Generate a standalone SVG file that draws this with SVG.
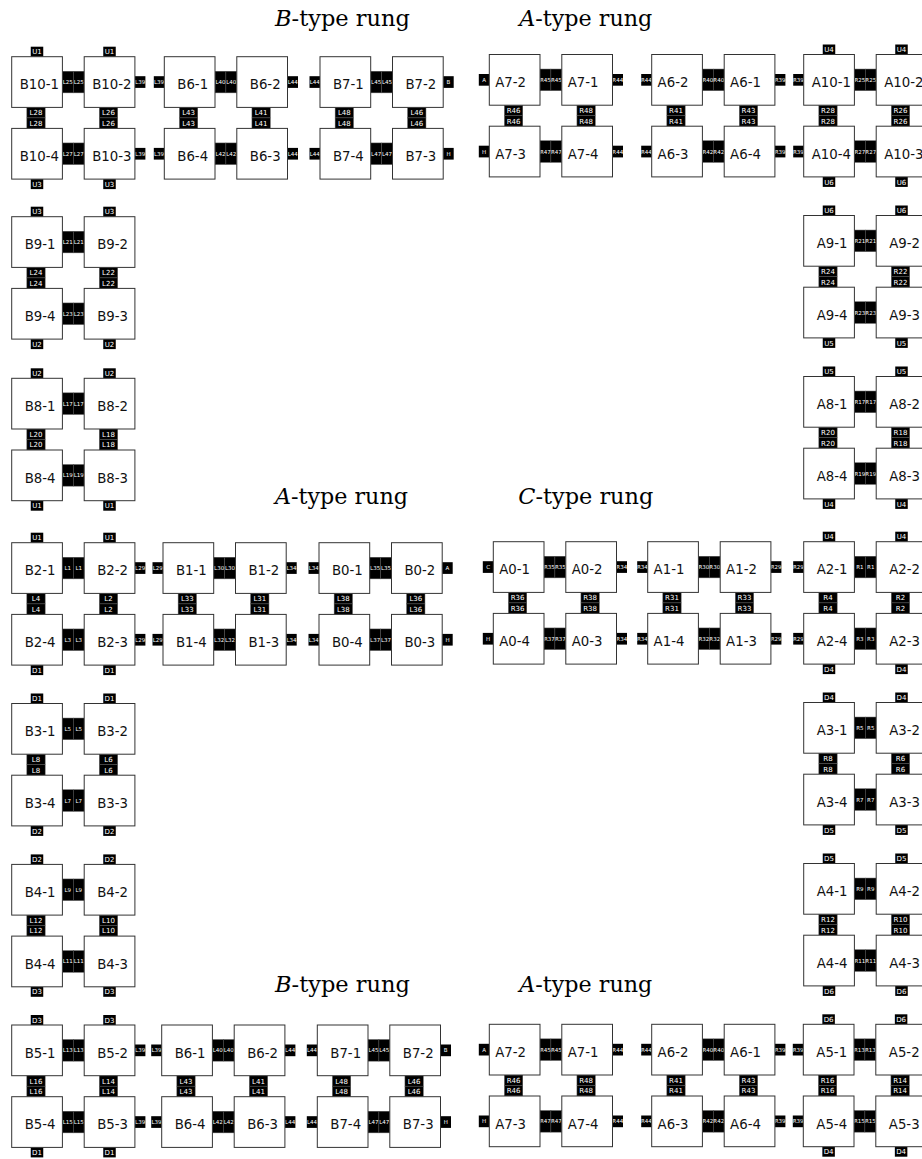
<svg xmlns="http://www.w3.org/2000/svg" xmlns:xlink="http://www.w3.org/1999/xlink" width="922" height="1159" viewBox="0 0 922 1159">
<style>
.box{fill:#fff;stroke:#333;stroke-width:1}
.c{fill:#000;stroke:#555;stroke-width:0.5}
.k{fill:#000}
.nl{font-family:"DejaVu Sans",sans-serif;font-size:13.3px;text-anchor:middle;fill:#111}
.s{font-family:"DejaVu Sans",sans-serif;font-size:5.5px;text-anchor:middle;fill:#fff}
.m{font-family:"DejaVu Sans",sans-serif;font-size:7px;text-anchor:middle;fill:#fff}
.ttl{font-family:"DejaVu Serif",serif;font-size:22px;fill:#000}
</style>
<defs>
<g id="conn">
<rect class="c" x="50.7" y="14.55" width="10.9" height="21.6"/>
<rect class="c" x="61.6" y="14.55" width="10.9" height="21.6"/>
<rect class="c" x="50.7" y="86.25" width="10.9" height="21.6"/>
<rect class="c" x="61.6" y="86.25" width="10.9" height="21.6"/>
<rect class="c" x="15.15" y="50.7" width="18.3" height="10.5"/>
<rect class="c" x="15.15" y="61.2" width="18.3" height="10.5"/>
<rect class="c" x="87.65" y="50.7" width="18.3" height="10.5"/>
<rect class="c" x="87.65" y="61.2" width="18.3" height="10.5"/>
</g>
<g id="tb">
<rect class="k" x="19.05" y="-10" width="12.5" height="10"/>
<rect class="k" x="91.55" y="-10" width="12.5" height="10"/>
<rect class="k" x="19.05" y="122.4" width="12.5" height="10"/>
<rect class="k" x="91.55" y="122.4" width="12.5" height="10"/>
</g>
<g id="lt">
<rect class="k" x="-10.5" y="19.5" width="10.5" height="11.7"/>
<rect class="k" x="-10.5" y="91.2" width="10.5" height="11.7"/>
</g>
<g id="rt">
<rect class="k" x="123.2" y="19.5" width="10.5" height="11.7"/>
<rect class="k" x="123.2" y="91.2" width="10.5" height="11.7"/>
</g>
</defs>

<g id="titles">
<text class="ttl" x="275" y="25.7" textLength="135" lengthAdjust="spacingAndGlyphs"><tspan font-style="italic">B</tspan>-type rung</text>
<text class="ttl" x="519.3" y="25.7" textLength="133" lengthAdjust="spacingAndGlyphs"><tspan font-style="italic">A</tspan>-type rung</text>
<text class="ttl" x="275" y="504" textLength="133" lengthAdjust="spacingAndGlyphs"><tspan font-style="italic">A</tspan>-type rung</text>
<text class="ttl" x="518.3" y="504" textLength="135" lengthAdjust="spacingAndGlyphs"><tspan font-style="italic">C</tspan>-type rung</text>
<text class="ttl" x="275" y="992" textLength="135" lengthAdjust="spacingAndGlyphs"><tspan font-style="italic">B</tspan>-type rung</text>
<text class="ttl" x="519.3" y="992" textLength="133" lengthAdjust="spacingAndGlyphs"><tspan font-style="italic">A</tspan>-type rung</text>
</g>

<g id="connectors">
<!-- B10 -->
<g transform="translate(11.7,56.7)"><use href="#conn"/><use href="#tb"/><use href="#rt"/>
<text class="s" x="56.15" y="27.4">L25</text><text class="s" x="67.05" y="27.4">L25</text>
<text class="s" x="56.15" y="99.1">L27</text><text class="s" x="67.05" y="99.1">L27</text>
<text class="m" x="24.3" y="58.5">L28</text><text class="m" x="24.3" y="69">L28</text>
<text class="m" x="96.8" y="58.5">L26</text><text class="m" x="96.8" y="69">L26</text>
<text class="m" x="25.3" y="-2.5">U1</text><text class="m" x="97.8" y="-2.5">U1</text>
<text class="m" x="25.3" y="130">U3</text><text class="m" x="97.8" y="130">U3</text>
<text class="s" x="128.45" y="27.4">L39</text><text class="s" x="128.45" y="99.1">L39</text>
</g>
<!-- B6 top -->
<g transform="translate(164.3,56.7)"><use href="#conn"/><use href="#lt"/><use href="#rt"/>
<text class="s" x="56.15" y="27.4">L40</text><text class="s" x="67.05" y="27.4">L40</text>
<text class="s" x="56.15" y="99.1">L42</text><text class="s" x="67.05" y="99.1">L42</text>
<text class="m" x="24.3" y="58.5">L43</text><text class="m" x="24.3" y="69">L43</text>
<text class="m" x="96.8" y="58.5">L41</text><text class="m" x="96.8" y="69">L41</text>
<text class="s" x="-5.25" y="27.4">L39</text><text class="s" x="-5.25" y="99.1">L39</text>
<text class="s" x="128.45" y="27.4">L44</text><text class="s" x="128.45" y="99.1">L44</text>
</g>
<!-- B7 top -->
<g transform="translate(320,56.7)"><use href="#conn"/><use href="#lt"/><use href="#rt"/>
<text class="s" x="56.15" y="27.4">L45</text><text class="s" x="67.05" y="27.4">L45</text>
<text class="s" x="56.15" y="99.1">L47</text><text class="s" x="67.05" y="99.1">L47</text>
<text class="m" x="24.3" y="58.5">L48</text><text class="m" x="24.3" y="69">L48</text>
<text class="m" x="96.8" y="58.5">L46</text><text class="m" x="96.8" y="69">L46</text>
<text class="s" x="-5.25" y="27.4">L44</text><text class="s" x="-5.25" y="99.1">L44</text>
<text class="s" x="128.45" y="27.4">B</text><text class="s" x="128.45" y="99.1">H</text>
</g>
<!-- A7 top -->
<g transform="translate(489.3,54.5)"><use href="#conn"/><use href="#lt"/><use href="#rt"/>
<text class="s" x="56.15" y="27.4">R45</text><text class="s" x="67.05" y="27.4">R45</text>
<text class="s" x="56.15" y="99.1">R47</text><text class="s" x="67.05" y="99.1">R47</text>
<text class="m" x="24.3" y="58.5">R46</text><text class="m" x="24.3" y="69">R46</text>
<text class="m" x="96.8" y="58.5">R48</text><text class="m" x="96.8" y="69">R48</text>
<text class="s" x="-5.25" y="27.4">A</text><text class="s" x="-5.25" y="99.1">H</text>
<text class="s" x="128.45" y="27.4">R44</text><text class="s" x="128.45" y="99.1">R44</text>
</g>
<!-- A6 top -->
<g transform="translate(651.7,54.5)"><use href="#conn"/><use href="#lt"/><use href="#rt"/>
<text class="s" x="56.15" y="27.4">R40</text><text class="s" x="67.05" y="27.4">R40</text>
<text class="s" x="56.15" y="99.1">R42</text><text class="s" x="67.05" y="99.1">R42</text>
<text class="m" x="24.3" y="58.5">R41</text><text class="m" x="24.3" y="69">R41</text>
<text class="m" x="96.8" y="58.5">R43</text><text class="m" x="96.8" y="69">R43</text>
<text class="s" x="-5.25" y="27.4">R44</text><text class="s" x="-5.25" y="99.1">R44</text>
<text class="s" x="128.45" y="27.4">R39</text><text class="s" x="128.45" y="99.1">R39</text>
</g>
<!-- A10 -->
<g transform="translate(803.7,54.5)"><use href="#conn"/><use href="#tb"/><use href="#lt"/>
<text class="s" x="56.15" y="27.4">R25</text><text class="s" x="67.05" y="27.4">R25</text>
<text class="s" x="56.15" y="99.1">R27</text><text class="s" x="67.05" y="99.1">R27</text>
<text class="m" x="24.3" y="58.5">R28</text><text class="m" x="24.3" y="69">R28</text>
<text class="m" x="96.8" y="58.5">R26</text><text class="m" x="96.8" y="69">R26</text>
<text class="m" x="25.3" y="-2.5">U4</text><text class="m" x="97.8" y="-2.5">U4</text>
<text class="m" x="25.3" y="130">U6</text><text class="m" x="97.8" y="130">U6</text>
<text class="s" x="-5.25" y="27.4">R39</text><text class="s" x="-5.25" y="99.1">R39</text>
</g>
<!-- B9 -->
<g transform="translate(11.7,216.7)"><use href="#conn"/><use href="#tb"/>
<text class="s" x="56.15" y="27.4">L21</text><text class="s" x="67.05" y="27.4">L21</text>
<text class="s" x="56.15" y="99.1">L23</text><text class="s" x="67.05" y="99.1">L23</text>
<text class="m" x="24.3" y="58.5">L24</text><text class="m" x="24.3" y="69">L24</text>
<text class="m" x="96.8" y="58.5">L22</text><text class="m" x="96.8" y="69">L22</text>
<text class="m" x="25.3" y="-2.5">U3</text><text class="m" x="97.8" y="-2.5">U3</text>
<text class="m" x="25.3" y="130">U2</text><text class="m" x="97.8" y="130">U2</text>
</g>
<!-- B8 -->
<g transform="translate(11.7,378.3)"><use href="#conn"/><use href="#tb"/>
<text class="s" x="56.15" y="27.4">L17</text><text class="s" x="67.05" y="27.4">L17</text>
<text class="s" x="56.15" y="99.1">L19</text><text class="s" x="67.05" y="99.1">L19</text>
<text class="m" x="24.3" y="58.5">L20</text><text class="m" x="24.3" y="69">L20</text>
<text class="m" x="96.8" y="58.5">L18</text><text class="m" x="96.8" y="69">L18</text>
<text class="m" x="25.3" y="-2.5">U2</text><text class="m" x="97.8" y="-2.5">U2</text>
<text class="m" x="25.3" y="130">U1</text><text class="m" x="97.8" y="130">U1</text>
</g>
<!-- A9 -->
<g transform="translate(803.7,215.5)"><use href="#conn"/><use href="#tb"/>
<text class="s" x="56.15" y="27.4">R21</text><text class="s" x="67.05" y="27.4">R21</text>
<text class="s" x="56.15" y="99.1">R23</text><text class="s" x="67.05" y="99.1">R23</text>
<text class="m" x="24.3" y="58.5">R24</text><text class="m" x="24.3" y="69">R24</text>
<text class="m" x="96.8" y="58.5">R22</text><text class="m" x="96.8" y="69">R22</text>
<text class="m" x="25.3" y="-2.5">U6</text><text class="m" x="97.8" y="-2.5">U6</text>
<text class="m" x="25.3" y="130">U5</text><text class="m" x="97.8" y="130">U5</text>
</g>
<!-- A8 -->
<g transform="translate(803.7,376.5)"><use href="#conn"/><use href="#tb"/>
<text class="s" x="56.15" y="27.4">R17</text><text class="s" x="67.05" y="27.4">R17</text>
<text class="s" x="56.15" y="99.1">R19</text><text class="s" x="67.05" y="99.1">R19</text>
<text class="m" x="24.3" y="58.5">R20</text><text class="m" x="24.3" y="69">R20</text>
<text class="m" x="96.8" y="58.5">R18</text><text class="m" x="96.8" y="69">R18</text>
<text class="m" x="25.3" y="-2.5">U5</text><text class="m" x="97.8" y="-2.5">U5</text>
<text class="m" x="25.3" y="130">U4</text><text class="m" x="97.8" y="130">U4</text>
</g>
<!-- B2 -->
<g transform="translate(11.7,542.7)"><use href="#conn"/><use href="#tb"/><use href="#rt"/>
<text class="s" x="56.15" y="27.4">L1</text><text class="s" x="67.05" y="27.4">L1</text>
<text class="s" x="56.15" y="99.1">L3</text><text class="s" x="67.05" y="99.1">L3</text>
<text class="m" x="24.3" y="58.5">L4</text><text class="m" x="24.3" y="69">L4</text>
<text class="m" x="96.8" y="58.5">L2</text><text class="m" x="96.8" y="69">L2</text>
<text class="m" x="25.3" y="-2.5">U1</text><text class="m" x="97.8" y="-2.5">U1</text>
<text class="m" x="25.3" y="130">D1</text><text class="m" x="97.8" y="130">D1</text>
<text class="s" x="128.45" y="27.4">L29</text><text class="s" x="128.45" y="99.1">L29</text>
</g>
<!-- B1 -->
<g transform="translate(163,542.7)"><use href="#conn"/><use href="#lt"/><use href="#rt"/>
<text class="s" x="56.15" y="27.4">L30</text><text class="s" x="67.05" y="27.4">L30</text>
<text class="s" x="56.15" y="99.1">L32</text><text class="s" x="67.05" y="99.1">L32</text>
<text class="m" x="24.3" y="58.5">L33</text><text class="m" x="24.3" y="69">L33</text>
<text class="m" x="96.8" y="58.5">L31</text><text class="m" x="96.8" y="69">L31</text>
<text class="s" x="-5.25" y="27.4">L29</text><text class="s" x="-5.25" y="99.1">L29</text>
<text class="s" x="128.45" y="27.4">L34</text><text class="s" x="128.45" y="99.1">L34</text>
</g>
<!-- B0 -->
<g transform="translate(319,542.7)"><use href="#conn"/><use href="#lt"/><use href="#rt"/>
<text class="s" x="56.15" y="27.4">L35</text><text class="s" x="67.05" y="27.4">L35</text>
<text class="s" x="56.15" y="99.1">L37</text><text class="s" x="67.05" y="99.1">L37</text>
<text class="m" x="24.3" y="58.5">L38</text><text class="m" x="24.3" y="69">L38</text>
<text class="m" x="96.8" y="58.5">L36</text><text class="m" x="96.8" y="69">L36</text>
<text class="s" x="-5.25" y="27.4">L34</text><text class="s" x="-5.25" y="99.1">L34</text>
<text class="s" x="128.45" y="27.4">A</text><text class="s" x="128.45" y="99.1">H</text>
</g>
<!-- A0 -->
<g transform="translate(493.3,541.7)"><use href="#conn"/><use href="#lt"/><use href="#rt"/>
<text class="s" x="56.15" y="27.4">R35</text><text class="s" x="67.05" y="27.4">R35</text>
<text class="s" x="56.15" y="99.1">R37</text><text class="s" x="67.05" y="99.1">R37</text>
<text class="m" x="24.3" y="58.5">R36</text><text class="m" x="24.3" y="69">R36</text>
<text class="m" x="96.8" y="58.5">R38</text><text class="m" x="96.8" y="69">R38</text>
<text class="s" x="-5.25" y="27.4">C</text><text class="s" x="-5.25" y="99.1">H</text>
<text class="s" x="128.45" y="27.4">R34</text><text class="s" x="128.45" y="99.1">R34</text>
</g>
<!-- A1 -->
<g transform="translate(647.7,541.7)"><use href="#conn"/><use href="#lt"/><use href="#rt"/>
<text class="s" x="56.15" y="27.4">R30</text><text class="s" x="67.05" y="27.4">R30</text>
<text class="s" x="56.15" y="99.1">R32</text><text class="s" x="67.05" y="99.1">R32</text>
<text class="m" x="24.3" y="58.5">R31</text><text class="m" x="24.3" y="69">R31</text>
<text class="m" x="96.8" y="58.5">R33</text><text class="m" x="96.8" y="69">R33</text>
<text class="s" x="-5.25" y="27.4">R34</text><text class="s" x="-5.25" y="99.1">R34</text>
<text class="s" x="128.45" y="27.4">R29</text><text class="s" x="128.45" y="99.1">R29</text>
</g>
<!-- A2 -->
<g transform="translate(803.7,541.7)"><use href="#conn"/><use href="#tb"/><use href="#lt"/>
<text class="s" x="56.15" y="27.4">R1</text><text class="s" x="67.05" y="27.4">R1</text>
<text class="s" x="56.15" y="99.1">R3</text><text class="s" x="67.05" y="99.1">R3</text>
<text class="m" x="24.3" y="58.5">R4</text><text class="m" x="24.3" y="69">R4</text>
<text class="m" x="96.8" y="58.5">R2</text><text class="m" x="96.8" y="69">R2</text>
<text class="m" x="25.3" y="-2.5">U4</text><text class="m" x="97.8" y="-2.5">U4</text>
<text class="m" x="25.3" y="130">D4</text><text class="m" x="97.8" y="130">D4</text>
<text class="s" x="-5.25" y="27.4">R29</text><text class="s" x="-5.25" y="99.1">R29</text>
</g>
<!-- B3 -->
<g transform="translate(11.7,703.5)"><use href="#conn"/><use href="#tb"/>
<text class="s" x="56.15" y="27.4">L5</text><text class="s" x="67.05" y="27.4">L5</text>
<text class="s" x="56.15" y="99.1">L7</text><text class="s" x="67.05" y="99.1">L7</text>
<text class="m" x="24.3" y="58.5">L8</text><text class="m" x="24.3" y="69">L8</text>
<text class="m" x="96.8" y="58.5">L6</text><text class="m" x="96.8" y="69">L6</text>
<text class="m" x="25.3" y="-2.5">D1</text><text class="m" x="97.8" y="-2.5">D1</text>
<text class="m" x="25.3" y="130">D2</text><text class="m" x="97.8" y="130">D2</text>
</g>
<!-- B4 -->
<g transform="translate(11.7,864.4)"><use href="#conn"/><use href="#tb"/>
<text class="s" x="56.15" y="27.4">L9</text><text class="s" x="67.05" y="27.4">L9</text>
<text class="s" x="56.15" y="99.1">L11</text><text class="s" x="67.05" y="99.1">L11</text>
<text class="m" x="24.3" y="58.5">L12</text><text class="m" x="24.3" y="69">L12</text>
<text class="m" x="96.8" y="58.5">L10</text><text class="m" x="96.8" y="69">L10</text>
<text class="m" x="25.3" y="-2.5">D2</text><text class="m" x="97.8" y="-2.5">D2</text>
<text class="m" x="25.3" y="130">D3</text><text class="m" x="97.8" y="130">D3</text>
</g>
<!-- A3 -->
<g transform="translate(803.7,702.5)"><use href="#conn"/><use href="#tb"/>
<text class="s" x="56.15" y="27.4">R5</text><text class="s" x="67.05" y="27.4">R5</text>
<text class="s" x="56.15" y="99.1">R7</text><text class="s" x="67.05" y="99.1">R7</text>
<text class="m" x="24.3" y="58.5">R8</text><text class="m" x="24.3" y="69">R8</text>
<text class="m" x="96.8" y="58.5">R6</text><text class="m" x="96.8" y="69">R6</text>
<text class="m" x="25.3" y="-2.5">D4</text><text class="m" x="97.8" y="-2.5">D4</text>
<text class="m" x="25.3" y="130">D5</text><text class="m" x="97.8" y="130">D5</text>
</g>
<!-- A4 -->
<g transform="translate(803.7,863.5)"><use href="#conn"/><use href="#tb"/>
<text class="s" x="56.15" y="27.4">R9</text><text class="s" x="67.05" y="27.4">R9</text>
<text class="s" x="56.15" y="99.1">R11</text><text class="s" x="67.05" y="99.1">R11</text>
<text class="m" x="24.3" y="58.5">R12</text><text class="m" x="24.3" y="69">R12</text>
<text class="m" x="96.8" y="58.5">R10</text><text class="m" x="96.8" y="69">R10</text>
<text class="m" x="25.3" y="-2.5">D5</text><text class="m" x="97.8" y="-2.5">D5</text>
<text class="m" x="25.3" y="130">D6</text><text class="m" x="97.8" y="130">D6</text>
</g>
<!-- B5 -->
<g transform="translate(11.7,1025)"><use href="#conn"/><use href="#tb"/><use href="#rt"/>
<text class="s" x="56.15" y="27.4">L13</text><text class="s" x="67.05" y="27.4">L13</text>
<text class="s" x="56.15" y="99.1">L15</text><text class="s" x="67.05" y="99.1">L15</text>
<text class="m" x="24.3" y="58.5">L16</text><text class="m" x="24.3" y="69">L16</text>
<text class="m" x="96.8" y="58.5">L14</text><text class="m" x="96.8" y="69">L14</text>
<text class="m" x="25.3" y="-2.5">D3</text><text class="m" x="97.8" y="-2.5">D3</text>
<text class="m" x="25.3" y="130">D1</text><text class="m" x="97.8" y="130">D1</text>
<text class="s" x="128.45" y="27.4">L39</text><text class="s" x="128.45" y="99.1">L39</text>
</g>
<!-- B6 bottom -->
<g transform="translate(161.7,1025)"><use href="#conn"/><use href="#lt"/><use href="#rt"/>
<text class="s" x="56.15" y="27.4">L40</text><text class="s" x="67.05" y="27.4">L40</text>
<text class="s" x="56.15" y="99.1">L42</text><text class="s" x="67.05" y="99.1">L42</text>
<text class="m" x="24.3" y="58.5">L43</text><text class="m" x="24.3" y="69">L43</text>
<text class="m" x="96.8" y="58.5">L41</text><text class="m" x="96.8" y="69">L41</text>
<text class="s" x="-5.25" y="27.4">L39</text><text class="s" x="-5.25" y="99.1">L39</text>
<text class="s" x="128.45" y="27.4">L44</text><text class="s" x="128.45" y="99.1">L44</text>
</g>
<!-- B7 bottom -->
<g transform="translate(317.3,1025)"><use href="#conn"/><use href="#lt"/><use href="#rt"/>
<text class="s" x="56.15" y="27.4">L45</text><text class="s" x="67.05" y="27.4">L45</text>
<text class="s" x="56.15" y="99.1">L47</text><text class="s" x="67.05" y="99.1">L47</text>
<text class="m" x="24.3" y="58.5">L48</text><text class="m" x="24.3" y="69">L48</text>
<text class="m" x="96.8" y="58.5">L46</text><text class="m" x="96.8" y="69">L46</text>
<text class="s" x="-5.25" y="27.4">L44</text><text class="s" x="-5.25" y="99.1">L44</text>
<text class="s" x="128.45" y="27.4">B</text><text class="s" x="128.45" y="99.1">H</text>
</g>
<!-- A7 bottom -->
<g transform="translate(489.3,1024.3)"><use href="#conn"/><use href="#lt"/><use href="#rt"/>
<text class="s" x="56.15" y="27.4">R45</text><text class="s" x="67.05" y="27.4">R45</text>
<text class="s" x="56.15" y="99.1">R47</text><text class="s" x="67.05" y="99.1">R47</text>
<text class="m" x="24.3" y="58.5">R46</text><text class="m" x="24.3" y="69">R46</text>
<text class="m" x="96.8" y="58.5">R48</text><text class="m" x="96.8" y="69">R48</text>
<text class="s" x="-5.25" y="27.4">A</text><text class="s" x="-5.25" y="99.1">H</text>
<text class="s" x="128.45" y="27.4">R44</text><text class="s" x="128.45" y="99.1">R44</text>
</g>
<!-- A6 bottom -->
<g transform="translate(651.7,1024.3)"><use href="#conn"/><use href="#lt"/><use href="#rt"/>
<text class="s" x="56.15" y="27.4">R40</text><text class="s" x="67.05" y="27.4">R40</text>
<text class="s" x="56.15" y="99.1">R42</text><text class="s" x="67.05" y="99.1">R42</text>
<text class="m" x="24.3" y="58.5">R41</text><text class="m" x="24.3" y="69">R41</text>
<text class="m" x="96.8" y="58.5">R43</text><text class="m" x="96.8" y="69">R43</text>
<text class="s" x="-5.25" y="27.4">R44</text><text class="s" x="-5.25" y="99.1">R44</text>
<text class="s" x="128.45" y="27.4">R39</text><text class="s" x="128.45" y="99.1">R39</text>
</g>
<!-- A5 -->
<g transform="translate(803.3,1024.3)"><use href="#conn"/><use href="#tb"/><use href="#lt"/>
<text class="s" x="56.15" y="27.4">R13</text><text class="s" x="67.05" y="27.4">R13</text>
<text class="s" x="56.15" y="99.1">R15</text><text class="s" x="67.05" y="99.1">R15</text>
<text class="m" x="24.3" y="58.5">R16</text><text class="m" x="24.3" y="69">R16</text>
<text class="m" x="96.8" y="58.5">R14</text><text class="m" x="96.8" y="69">R14</text>
<text class="m" x="25.3" y="-2.5">D6</text><text class="m" x="97.8" y="-2.5">D6</text>
<text class="m" x="25.3" y="130">D4</text><text class="m" x="97.8" y="130">D4</text>
<text class="s" x="-5.25" y="27.4">R39</text><text class="s" x="-5.25" y="99.1">R39</text>
</g>
</g>

<g id="nodes">
<g transform="translate(11.7,56.7)">
<g id="B10-1"><rect class="box" width="50.7" height="50.7"/><text class="nl" x="27.6" y="32.7">B10-1</text></g>
<g id="B10-2" transform="translate(72.5,0)"><rect class="box" width="50.7" height="50.7"/><text class="nl" x="27.6" y="32.7">B10-2</text></g>
<g id="B10-4" transform="translate(0,71.7)"><rect class="box" width="50.7" height="50.7"/><text class="nl" x="27.6" y="32.7">B10-4</text></g>
<g id="B10-3" transform="translate(72.5,71.7)"><rect class="box" width="50.7" height="50.7"/><text class="nl" x="27.6" y="32.7">B10-3</text></g>
</g>
<g transform="translate(164.3,56.7)">
<g id="B6-1-top"><rect class="box" width="50.7" height="50.7"/><text class="nl" x="28.4" y="32.7">B6-1</text></g>
<g id="B6-2-top" transform="translate(72.5,0)"><rect class="box" width="50.7" height="50.7"/><text class="nl" x="28.4" y="32.7">B6-2</text></g>
<g id="B6-4-top" transform="translate(0,71.7)"><rect class="box" width="50.7" height="50.7"/><text class="nl" x="28.4" y="32.7">B6-4</text></g>
<g id="B6-3-top" transform="translate(72.5,71.7)"><rect class="box" width="50.7" height="50.7"/><text class="nl" x="28.4" y="32.7">B6-3</text></g>
</g>
<g transform="translate(320,56.7)">
<g id="B7-1-top"><rect class="box" width="50.7" height="50.7"/><text class="nl" x="28.4" y="32.7">B7-1</text></g>
<g id="B7-2-top" transform="translate(72.5,0)"><rect class="box" width="50.7" height="50.7"/><text class="nl" x="28.4" y="32.7">B7-2</text></g>
<g id="B7-4-top" transform="translate(0,71.7)"><rect class="box" width="50.7" height="50.7"/><text class="nl" x="28.4" y="32.7">B7-4</text></g>
<g id="B7-3-top" transform="translate(72.5,71.7)"><rect class="box" width="50.7" height="50.7"/><text class="nl" x="28.4" y="32.7">B7-3</text></g>
</g>
<g transform="translate(489.3,54.5)">
<g id="A7-2-top"><rect class="box" width="50.7" height="50.7"/><text class="nl" x="21.3" y="32.7">A7-2</text></g>
<g id="A7-1-top" transform="translate(72.5,0)"><rect class="box" width="50.7" height="50.7"/><text class="nl" x="21.3" y="32.7">A7-1</text></g>
<g id="A7-3-top" transform="translate(0,71.7)"><rect class="box" width="50.7" height="50.7"/><text class="nl" x="21.3" y="32.7">A7-3</text></g>
<g id="A7-4-top" transform="translate(72.5,71.7)"><rect class="box" width="50.7" height="50.7"/><text class="nl" x="21.3" y="32.7">A7-4</text></g>
</g>
<g transform="translate(651.7,54.5)">
<g id="A6-2-top"><rect class="box" width="50.7" height="50.7"/><text class="nl" x="21.3" y="32.7">A6-2</text></g>
<g id="A6-1-top" transform="translate(72.5,0)"><rect class="box" width="50.7" height="50.7"/><text class="nl" x="21.3" y="32.7">A6-1</text></g>
<g id="A6-3-top" transform="translate(0,71.7)"><rect class="box" width="50.7" height="50.7"/><text class="nl" x="21.3" y="32.7">A6-3</text></g>
<g id="A6-4-top" transform="translate(72.5,71.7)"><rect class="box" width="50.7" height="50.7"/><text class="nl" x="21.3" y="32.7">A6-4</text></g>
</g>
<g transform="translate(803.7,54.5)">
<g id="A10-1"><rect class="box" width="50.7" height="50.7"/><text class="nl" x="27.6" y="32.7">A10-1</text></g>
<g id="A10-2" transform="translate(72.5,0)"><rect class="box" width="50.7" height="50.7"/><text class="nl" x="27.6" y="32.7">A10-2</text></g>
<g id="A10-4" transform="translate(0,71.7)"><rect class="box" width="50.7" height="50.7"/><text class="nl" x="27.6" y="32.7">A10-4</text></g>
<g id="A10-3" transform="translate(72.5,71.7)"><rect class="box" width="50.7" height="50.7"/><text class="nl" x="27.6" y="32.7">A10-3</text></g>
</g>
<g transform="translate(11.7,216.7)">
<g id="B9-1"><rect class="box" width="50.7" height="50.7"/><text class="nl" x="28.4" y="32.7">B9-1</text></g>
<g id="B9-2" transform="translate(72.5,0)"><rect class="box" width="50.7" height="50.7"/><text class="nl" x="28.4" y="32.7">B9-2</text></g>
<g id="B9-4" transform="translate(0,71.7)"><rect class="box" width="50.7" height="50.7"/><text class="nl" x="28.4" y="32.7">B9-4</text></g>
<g id="B9-3" transform="translate(72.5,71.7)"><rect class="box" width="50.7" height="50.7"/><text class="nl" x="28.4" y="32.7">B9-3</text></g>
</g>
<g transform="translate(11.7,378.3)">
<g id="B8-1"><rect class="box" width="50.7" height="50.7"/><text class="nl" x="28.4" y="32.7">B8-1</text></g>
<g id="B8-2" transform="translate(72.5,0)"><rect class="box" width="50.7" height="50.7"/><text class="nl" x="28.4" y="32.7">B8-2</text></g>
<g id="B8-4" transform="translate(0,71.7)"><rect class="box" width="50.7" height="50.7"/><text class="nl" x="28.4" y="32.7">B8-4</text></g>
<g id="B8-3" transform="translate(72.5,71.7)"><rect class="box" width="50.7" height="50.7"/><text class="nl" x="28.4" y="32.7">B8-3</text></g>
</g>
<g transform="translate(803.7,215.5)">
<g id="A9-1"><rect class="box" width="50.7" height="50.7"/><text class="nl" x="28.4" y="32.7">A9-1</text></g>
<g id="A9-2" transform="translate(72.5,0)"><rect class="box" width="50.7" height="50.7"/><text class="nl" x="28.4" y="32.7">A9-2</text></g>
<g id="A9-4" transform="translate(0,71.7)"><rect class="box" width="50.7" height="50.7"/><text class="nl" x="28.4" y="32.7">A9-4</text></g>
<g id="A9-3" transform="translate(72.5,71.7)"><rect class="box" width="50.7" height="50.7"/><text class="nl" x="28.4" y="32.7">A9-3</text></g>
</g>
<g transform="translate(803.7,376.5)">
<g id="A8-1"><rect class="box" width="50.7" height="50.7"/><text class="nl" x="28.4" y="32.7">A8-1</text></g>
<g id="A8-2" transform="translate(72.5,0)"><rect class="box" width="50.7" height="50.7"/><text class="nl" x="28.4" y="32.7">A8-2</text></g>
<g id="A8-4" transform="translate(0,71.7)"><rect class="box" width="50.7" height="50.7"/><text class="nl" x="28.4" y="32.7">A8-4</text></g>
<g id="A8-3" transform="translate(72.5,71.7)"><rect class="box" width="50.7" height="50.7"/><text class="nl" x="28.4" y="32.7">A8-3</text></g>
</g>
<g transform="translate(11.7,542.7)">
<g id="B2-1"><rect class="box" width="50.7" height="50.7"/><text class="nl" x="28.4" y="32.7">B2-1</text></g>
<g id="B2-2" transform="translate(72.5,0)"><rect class="box" width="50.7" height="50.7"/><text class="nl" x="28.4" y="32.7">B2-2</text></g>
<g id="B2-4" transform="translate(0,71.7)"><rect class="box" width="50.7" height="50.7"/><text class="nl" x="28.4" y="32.7">B2-4</text></g>
<g id="B2-3" transform="translate(72.5,71.7)"><rect class="box" width="50.7" height="50.7"/><text class="nl" x="28.4" y="32.7">B2-3</text></g>
</g>
<g transform="translate(163,542.7)">
<g id="B1-1"><rect class="box" width="50.7" height="50.7"/><text class="nl" x="28.4" y="32.7">B1-1</text></g>
<g id="B1-2" transform="translate(72.5,0)"><rect class="box" width="50.7" height="50.7"/><text class="nl" x="28.4" y="32.7">B1-2</text></g>
<g id="B1-4" transform="translate(0,71.7)"><rect class="box" width="50.7" height="50.7"/><text class="nl" x="28.4" y="32.7">B1-4</text></g>
<g id="B1-3" transform="translate(72.5,71.7)"><rect class="box" width="50.7" height="50.7"/><text class="nl" x="28.4" y="32.7">B1-3</text></g>
</g>
<g transform="translate(319,542.7)">
<g id="B0-1"><rect class="box" width="50.7" height="50.7"/><text class="nl" x="28.4" y="32.7">B0-1</text></g>
<g id="B0-2" transform="translate(72.5,0)"><rect class="box" width="50.7" height="50.7"/><text class="nl" x="28.4" y="32.7">B0-2</text></g>
<g id="B0-4" transform="translate(0,71.7)"><rect class="box" width="50.7" height="50.7"/><text class="nl" x="28.4" y="32.7">B0-4</text></g>
<g id="B0-3" transform="translate(72.5,71.7)"><rect class="box" width="50.7" height="50.7"/><text class="nl" x="28.4" y="32.7">B0-3</text></g>
</g>
<g transform="translate(493.3,541.7)">
<g id="A0-1"><rect class="box" width="50.7" height="50.7"/><text class="nl" x="21.3" y="32.7">A0-1</text></g>
<g id="A0-2" transform="translate(72.5,0)"><rect class="box" width="50.7" height="50.7"/><text class="nl" x="21.3" y="32.7">A0-2</text></g>
<g id="A0-4" transform="translate(0,71.7)"><rect class="box" width="50.7" height="50.7"/><text class="nl" x="21.3" y="32.7">A0-4</text></g>
<g id="A0-3" transform="translate(72.5,71.7)"><rect class="box" width="50.7" height="50.7"/><text class="nl" x="21.3" y="32.7">A0-3</text></g>
</g>
<g transform="translate(647.7,541.7)">
<g id="A1-1"><rect class="box" width="50.7" height="50.7"/><text class="nl" x="21.3" y="32.7">A1-1</text></g>
<g id="A1-2" transform="translate(72.5,0)"><rect class="box" width="50.7" height="50.7"/><text class="nl" x="21.3" y="32.7">A1-2</text></g>
<g id="A1-4" transform="translate(0,71.7)"><rect class="box" width="50.7" height="50.7"/><text class="nl" x="21.3" y="32.7">A1-4</text></g>
<g id="A1-3" transform="translate(72.5,71.7)"><rect class="box" width="50.7" height="50.7"/><text class="nl" x="21.3" y="32.7">A1-3</text></g>
</g>
<g transform="translate(803.7,541.7)">
<g id="A2-1"><rect class="box" width="50.7" height="50.7"/><text class="nl" x="28.4" y="32.7">A2-1</text></g>
<g id="A2-2" transform="translate(72.5,0)"><rect class="box" width="50.7" height="50.7"/><text class="nl" x="28.4" y="32.7">A2-2</text></g>
<g id="A2-4" transform="translate(0,71.7)"><rect class="box" width="50.7" height="50.7"/><text class="nl" x="28.4" y="32.7">A2-4</text></g>
<g id="A2-3" transform="translate(72.5,71.7)"><rect class="box" width="50.7" height="50.7"/><text class="nl" x="28.4" y="32.7">A2-3</text></g>
</g>
<g transform="translate(11.7,703.5)">
<g id="B3-1"><rect class="box" width="50.7" height="50.7"/><text class="nl" x="28.4" y="32.7">B3-1</text></g>
<g id="B3-2" transform="translate(72.5,0)"><rect class="box" width="50.7" height="50.7"/><text class="nl" x="28.4" y="32.7">B3-2</text></g>
<g id="B3-4" transform="translate(0,71.7)"><rect class="box" width="50.7" height="50.7"/><text class="nl" x="28.4" y="32.7">B3-4</text></g>
<g id="B3-3" transform="translate(72.5,71.7)"><rect class="box" width="50.7" height="50.7"/><text class="nl" x="28.4" y="32.7">B3-3</text></g>
</g>
<g transform="translate(11.7,864.4)">
<g id="B4-1"><rect class="box" width="50.7" height="50.7"/><text class="nl" x="28.4" y="32.7">B4-1</text></g>
<g id="B4-2" transform="translate(72.5,0)"><rect class="box" width="50.7" height="50.7"/><text class="nl" x="28.4" y="32.7">B4-2</text></g>
<g id="B4-4" transform="translate(0,71.7)"><rect class="box" width="50.7" height="50.7"/><text class="nl" x="28.4" y="32.7">B4-4</text></g>
<g id="B4-3" transform="translate(72.5,71.7)"><rect class="box" width="50.7" height="50.7"/><text class="nl" x="28.4" y="32.7">B4-3</text></g>
</g>
<g transform="translate(803.7,702.5)">
<g id="A3-1"><rect class="box" width="50.7" height="50.7"/><text class="nl" x="28.4" y="32.7">A3-1</text></g>
<g id="A3-2" transform="translate(72.5,0)"><rect class="box" width="50.7" height="50.7"/><text class="nl" x="28.4" y="32.7">A3-2</text></g>
<g id="A3-4" transform="translate(0,71.7)"><rect class="box" width="50.7" height="50.7"/><text class="nl" x="28.4" y="32.7">A3-4</text></g>
<g id="A3-3" transform="translate(72.5,71.7)"><rect class="box" width="50.7" height="50.7"/><text class="nl" x="28.4" y="32.7">A3-3</text></g>
</g>
<g transform="translate(803.7,863.5)">
<g id="A4-1"><rect class="box" width="50.7" height="50.7"/><text class="nl" x="28.4" y="32.7">A4-1</text></g>
<g id="A4-2" transform="translate(72.5,0)"><rect class="box" width="50.7" height="50.7"/><text class="nl" x="28.4" y="32.7">A4-2</text></g>
<g id="A4-4" transform="translate(0,71.7)"><rect class="box" width="50.7" height="50.7"/><text class="nl" x="28.4" y="32.7">A4-4</text></g>
<g id="A4-3" transform="translate(72.5,71.7)"><rect class="box" width="50.7" height="50.7"/><text class="nl" x="28.4" y="32.7">A4-3</text></g>
</g>
<g transform="translate(11.7,1025)">
<g id="B5-1"><rect class="box" width="50.7" height="50.7"/><text class="nl" x="28.4" y="32.7">B5-1</text></g>
<g id="B5-2" transform="translate(72.5,0)"><rect class="box" width="50.7" height="50.7"/><text class="nl" x="28.4" y="32.7">B5-2</text></g>
<g id="B5-4" transform="translate(0,71.7)"><rect class="box" width="50.7" height="50.7"/><text class="nl" x="28.4" y="32.7">B5-4</text></g>
<g id="B5-3" transform="translate(72.5,71.7)"><rect class="box" width="50.7" height="50.7"/><text class="nl" x="28.4" y="32.7">B5-3</text></g>
</g>
<g transform="translate(161.7,1025)">
<g id="B6-1-bot"><rect class="box" width="50.7" height="50.7"/><text class="nl" x="28.4" y="32.7">B6-1</text></g>
<g id="B6-2-bot" transform="translate(72.5,0)"><rect class="box" width="50.7" height="50.7"/><text class="nl" x="28.4" y="32.7">B6-2</text></g>
<g id="B6-4-bot" transform="translate(0,71.7)"><rect class="box" width="50.7" height="50.7"/><text class="nl" x="28.4" y="32.7">B6-4</text></g>
<g id="B6-3-bot" transform="translate(72.5,71.7)"><rect class="box" width="50.7" height="50.7"/><text class="nl" x="28.4" y="32.7">B6-3</text></g>
</g>
<g transform="translate(317.3,1025)">
<g id="B7-1-bot"><rect class="box" width="50.7" height="50.7"/><text class="nl" x="28.4" y="32.7">B7-1</text></g>
<g id="B7-2-bot" transform="translate(72.5,0)"><rect class="box" width="50.7" height="50.7"/><text class="nl" x="28.4" y="32.7">B7-2</text></g>
<g id="B7-4-bot" transform="translate(0,71.7)"><rect class="box" width="50.7" height="50.7"/><text class="nl" x="28.4" y="32.7">B7-4</text></g>
<g id="B7-3-bot" transform="translate(72.5,71.7)"><rect class="box" width="50.7" height="50.7"/><text class="nl" x="28.4" y="32.7">B7-3</text></g>
</g>
<g transform="translate(489.3,1024.3)">
<g id="A7-2-bot"><rect class="box" width="50.7" height="50.7"/><text class="nl" x="21.3" y="32.7">A7-2</text></g>
<g id="A7-1-bot" transform="translate(72.5,0)"><rect class="box" width="50.7" height="50.7"/><text class="nl" x="21.3" y="32.7">A7-1</text></g>
<g id="A7-3-bot" transform="translate(0,71.7)"><rect class="box" width="50.7" height="50.7"/><text class="nl" x="21.3" y="32.7">A7-3</text></g>
<g id="A7-4-bot" transform="translate(72.5,71.7)"><rect class="box" width="50.7" height="50.7"/><text class="nl" x="21.3" y="32.7">A7-4</text></g>
</g>
<g transform="translate(651.7,1024.3)">
<g id="A6-2-bot"><rect class="box" width="50.7" height="50.7"/><text class="nl" x="21.3" y="32.7">A6-2</text></g>
<g id="A6-1-bot" transform="translate(72.5,0)"><rect class="box" width="50.7" height="50.7"/><text class="nl" x="21.3" y="32.7">A6-1</text></g>
<g id="A6-3-bot" transform="translate(0,71.7)"><rect class="box" width="50.7" height="50.7"/><text class="nl" x="21.3" y="32.7">A6-3</text></g>
<g id="A6-4-bot" transform="translate(72.5,71.7)"><rect class="box" width="50.7" height="50.7"/><text class="nl" x="21.3" y="32.7">A6-4</text></g>
</g>
<g transform="translate(803.3,1024.3)">
<g id="A5-1"><rect class="box" width="50.7" height="50.7"/><text class="nl" x="28.4" y="32.7">A5-1</text></g>
<g id="A5-2" transform="translate(72.5,0)"><rect class="box" width="50.7" height="50.7"/><text class="nl" x="28.4" y="32.7">A5-2</text></g>
<g id="A5-4" transform="translate(0,71.7)"><rect class="box" width="50.7" height="50.7"/><text class="nl" x="28.4" y="32.7">A5-4</text></g>
<g id="A5-3" transform="translate(72.5,71.7)"><rect class="box" width="50.7" height="50.7"/><text class="nl" x="28.4" y="32.7">A5-3</text></g>
</g>
</g>
</svg>
